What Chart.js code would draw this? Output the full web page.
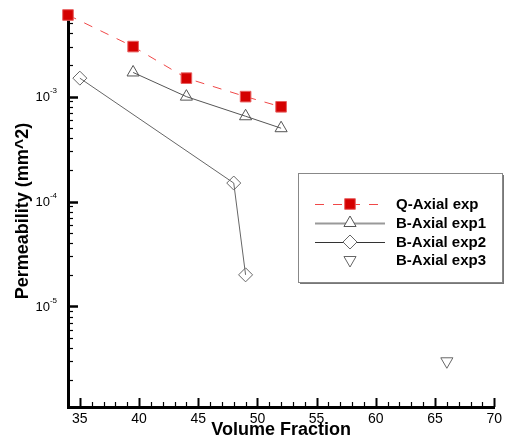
<!DOCTYPE html>
<html>
<head>
<meta charset="utf-8">
<script src="https://cdn.jsdelivr.net/npm/chart.js@4"></script>
<style>
html,body{margin:0;padding:0;background:#fff;}
#wrap{width:506px;height:443px;position:relative;}
</style>
</head>
<body>
<div id="wrap"><canvas id="c" width="506" height="443"></canvas></div>
<script>
// ---- data ----
const qAxialX = [34, 39.5, 44, 49, 52];
const qAxialY = [6.0e-3, 3.0e-3, 1.5e-3, 1.0e-3, 8.0e-4];
const bAxial1X = [39.5, 44, 49, 52];
const bAxial1Y = [1.7e-3, 1.0e-3, 6.5e-4, 5.0e-4];
const bAxial2X = [35, 48, 49];
const bAxial2Y = [1.5e-3, 1.5e-4, 2.0e-5];
const bAxial3X = [66];
const bAxial3Y = [3.0e-6];
const seriesNames = ['Q-Axial exp', 'B-Axial exp1', 'B-Axial exp2', 'B-Axial exp3'];
const xTickLabels = [35, 40, 45, 50, 55, 60, 65, 70];
const yTickExponents = [-3, -4, -5];
const xTitle = 'Volume Fraction';
const yTitle = 'Permeability (mm^2)';

const pts = (xs, ys) => xs.map((x, i) => ({x, y: ys[i]}));

const FONT = "'Liberation Sans', Arial, Helvetica, sans-serif";

const innerTicks = {
  id: 'innerTicks',
  afterDraw(chart) {
    const ctx = chart.ctx;
    const xs = chart.scales.x, ys = chart.scales.y;
    const area = chart.chartArea;
    ctx.save();
    ctx.strokeStyle = '#000';
    // x ticks (inside)
    for (let v = Math.ceil(xs.min); v <= xs.max; v++) {
      if (v <= xs.min) continue;
      const px = Math.round(xs.getPixelForValue(v)) + 0.5;
      const major = v % 5 === 0;
      ctx.lineWidth = major ? 2 : 1.2;
      const len = major ? 9 : 5;
      ctx.beginPath();
      ctx.moveTo(px, area.bottom);
      ctx.lineTo(px, area.bottom - len);
      ctx.stroke();
    }
    // y ticks (inside), log decades
    const e0 = Math.floor(Math.log10(ys.min)), e1 = Math.ceil(Math.log10(ys.max));
    for (let e = e0; e <= e1; e++) {
      for (let s = 1; s <= 9; s++) {
        const v = s * Math.pow(10, e);
        if (v < ys.min || v > ys.max) continue;
        const py = Math.round(ys.getPixelForValue(v)) + 0.5;
        if (py < area.top + 2 || py > area.bottom - 2) continue;
        const major = s === 1;
        ctx.lineWidth = major ? 2.5 : 1.2;
        const len = major ? 10 : 5;
        ctx.beginPath();
        ctx.moveTo(area.left, py);
        ctx.lineTo(area.left + len, py);
        ctx.stroke();
      }
    }
    // y tick labels with superscript exponent
    ctx.fillStyle = '#000';
    ctx.textBaseline = 'middle';
    yTickExponents.forEach(e => {
      const py = ys.getPixelForValue(Math.pow(10, e));
      const expTxt = e < 0 ? '-' + Math.abs(e) : String(e);
      ctx.font = '8px ' + FONT;
      const ew = ctx.measureText(expTxt).width;
      const right = area.left - 11;
      ctx.textAlign = 'left';
      ctx.fillText(expTxt, right - ew, py - 6);
      ctx.font = '13px ' + FONT;
      ctx.textAlign = 'right';
      ctx.fillText('10', right - ew, py + 1);
    });
    ctx.restore();
  }
};

const customLegend = {
  id: 'customLegend',
  afterDraw(chart) {
    const ctx = chart.ctx;
    const bx = 298, by = 173, bw = 204, bh = 109;
    ctx.save();
    ctx.fillStyle = '#777';
    ctx.fillRect(bx + 2, by + 2, bw, bh);
    ctx.fillStyle = '#fff';
    ctx.fillRect(bx, by, bw, bh);
    ctx.strokeStyle = '#888';
    ctx.lineWidth = 1;
    ctx.strokeRect(bx + 0.5, by + 0.5, bw, bh);
    const rows = [204, 223, 242, 260];
    const lx0 = 315, lx1 = 385, mx = 350, tx = 396;
    chart.data.datasets.forEach((ds, i) => {
      const y = rows[i];
      if (ds.showLine !== false) {
        ctx.save();
        ctx.strokeStyle = ds.legendLineColor || ds.borderColor;
        ctx.lineWidth = ds.legendLineWidth || ds.borderWidth;
        ctx.setLineDash(ds.borderDash || []);
        ctx.lineDashOffset = 0;
        ctx.beginPath();
        ctx.moveTo(lx0, y + 0.5);
        ctx.lineTo(lx1, y + 0.5);
        ctx.stroke();
        ctx.restore();
      }
      ctx.save();
      ctx.fillStyle = ds.legendPointFill || ds.pointBackgroundColor;
      ctx.strokeStyle = ds.pointBorderColor;
      ctx.lineWidth = ds.pointBorderWidth;
      Chart.helpers.drawPoint(ctx, {
        pointStyle: ds.pointStyle,
        radius: ds.pointRadius,
        rotation: ds.pointRotation || 0,
        borderWidth: ds.pointBorderWidth
      }, mx, y);
      ctx.restore();
      ctx.fillStyle = '#000';
      ctx.font = 'bold 15px ' + FONT;
      ctx.textBaseline = 'middle';
      ctx.textAlign = 'left';
      ctx.fillText(ds.label, tx, y + 1);
    });
    ctx.restore();
  }
};

const chart = new Chart(document.getElementById('c'), {
  type: 'scatter',
  data: {
    datasets: [
      {
        label: seriesNames[0],
        data: pts(qAxialX, qAxialY),
        showLine: true,
        borderColor: '#f04848',
        borderWidth: 1,
        borderDash: [9, 9],
        pointStyle: 'rect',
        pointRadius: 7.5,
        pointBackgroundColor: '#d40000',
        pointBorderColor: '#e86060',
        pointBorderWidth: 1,
        clip: false
      },
      {
        label: seriesNames[1],
        data: pts(bAxial1X, bAxial1Y),
        showLine: true,
        borderColor: '#555',
        borderWidth: 1,
        legendLineColor: '#999',
        legendLineWidth: 2,
        legendPointFill: '#fff',
        pointStyle: 'triangle',
        pointRadius: 7,
        pointBackgroundColor: 'rgba(255,255,255,0)',
        pointBorderColor: '#555',
        pointBorderWidth: 1,
        clip: false
      },
      {
        label: seriesNames[2],
        data: pts(bAxial2X, bAxial2Y),
        showLine: true,
        borderColor: '#666',
        borderWidth: 1,
        legendLineColor: '#333',
        legendLineWidth: 1,
        legendPointFill: '#fff',
        pointStyle: 'rectRot',
        pointRadius: 7,
        pointBackgroundColor: 'rgba(255,255,255,0)',
        pointBorderColor: '#666',
        pointBorderWidth: 1,
        clip: false
      },
      {
        label: seriesNames[3],
        data: pts(bAxial3X, bAxial3Y),
        showLine: false,
        borderColor: '#666',
        borderWidth: 1,
        legendPointFill: '#fff',
        pointStyle: 'triangle',
        pointRotation: 180,
        pointRadius: 7,
        pointBackgroundColor: 'rgba(255,255,255,0)',
        pointBorderColor: '#666',
        pointBorderWidth: 1,
        clip: false
      }
    ]
  },
  options: {
    responsive: false,
    animation: false,
    devicePixelRatio: 1,
    layout: {padding: {left: 0, top: 15, right: 6, bottom: 0}},
    plugins: {legend: {display: false}, tooltip: {enabled: false}},
    scales: {
      x: {
        type: 'linear',
        min: 34, max: 70,
        grid: {display: false, drawTicks: false},
        border: {display: true, color: '#000', width: 3},
        ticks: {
          stepSize: 1,
          autoSkip: false,
          maxRotation: 0,
          padding: 4,
          color: '#000',
          font: {family: FONT, size: 14},
          callback: v => xTickLabels.includes(v) ? String(v) : ''
        },
        title: {
          display: true,
          text: xTitle,
          color: '#000',
          font: {family: FONT, size: 18, weight: 'bold'},
          padding: {top: 0, bottom: 2}
        },
        afterFit: s => { s.height = 36; }
      },
      y: {
        type: 'logarithmic',
        min: 1.1e-6, max: 6e-3,
        grid: {display: false, drawTicks: false},
        border: {display: true, color: '#000', width: 3},
        ticks: {display: false},
        title: {
          display: true,
          text: yTitle,
          color: '#000',
          font: {family: FONT, size: 18, weight: 'bold'},
          padding: {top: 12, bottom: 0}
        },
        afterFit: s => { s.width = 68; }
      }
    }
  },
  plugins: [innerTicks, customLegend]
});
</script>
</body>
</html>
